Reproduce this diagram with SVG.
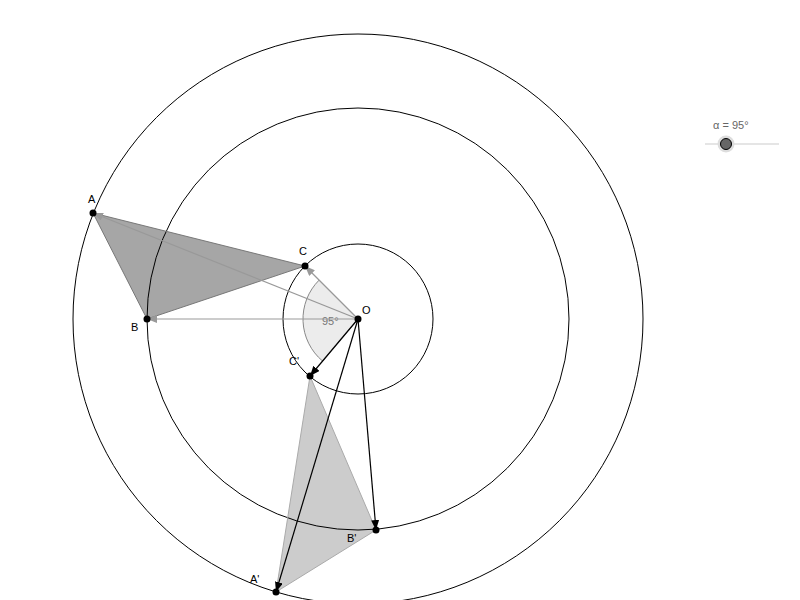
<svg xmlns="http://www.w3.org/2000/svg" width="800" height="600" viewBox="0 0 800 600">
<style>
text{font-family:"Liberation Sans",Arial,sans-serif;font-size:11px;fill:#000}
.circ{fill:none;stroke:#000;stroke-width:1}
.gv{stroke:#999;stroke-width:1.2;fill:none;marker-end:url(#ag)}
.bv{stroke:#000;stroke-width:1.2;fill:none;marker-end:url(#ab)}
.pt{fill:#000}
</style>
<defs>
<marker id="ag" viewBox="0 0 10 8" refX="10" refY="4" markerWidth="10" markerHeight="8" markerUnits="userSpaceOnUse" orient="auto"><path d="M0,0 L10,4 L0,8 z" fill="#999"/></marker>
<marker id="ab" viewBox="0 0 10 8" refX="10" refY="4" markerWidth="10" markerHeight="8" markerUnits="userSpaceOnUse" orient="auto"><path d="M0,0 L10,4 L0,8 z" fill="#000"/></marker>
</defs>
<rect width="800" height="600" fill="#fff"/>
<g id="circles">
<circle class="circ" cx="358" cy="319" r="285"/>
<circle class="circ" cx="358" cy="319" r="211"/>
<circle class="circ" cx="358" cy="319" r="75"/>
</g>
<g id="angle">
<path d="M358,319 L319.1,280.1 A55,55 0 0 0 322.6,361.1 Z" fill="#ececec" stroke="#888" stroke-width="1"/>
<text x="322" y="325" style="fill:#777">95°</text>
</g>
<g id="triangleABC">
<polygon points="93,213 147,319 305,266" fill="#000" fill-opacity="0.35" stroke="#777" stroke-width="1"/>
</g>
<g id="triangleA1B1C1">
<polygon points="276,592 376,530 310,376" fill="#000" fill-opacity="0.2" stroke="#aaa" stroke-width="1"/>
</g>
<g id="connectors">
<line class="gv" x1="358" y1="319" x2="93" y2="213"/>
<line class="gv" x1="358" y1="319" x2="147" y2="319"/>
<line class="gv" x1="358" y1="319" x2="305" y2="266"/>
<line class="bv" x1="358" y1="319" x2="276" y2="592"/>
<line class="bv" x1="358" y1="319" x2="376" y2="530"/>
<line class="bv" x1="358" y1="319" x2="310" y2="376"/>
</g>
<g id="A"><circle class="pt" cx="93" cy="213" r="3.5"/><text x="88" y="203">A</text></g>
<g id="B"><circle class="pt" cx="147" cy="319" r="3.5"/><text x="131" y="331">B</text></g>
<g id="C"><circle class="pt" cx="305" cy="266" r="3.5"/><text x="299" y="255">C</text></g>
<g id="O"><circle class="pt" cx="358" cy="319" r="3.5"/><text x="362" y="314">O</text></g>
<g id="A1"><circle class="pt" cx="276" cy="592" r="3.5"/><text x="250" y="583">A'</text></g>
<g id="B1"><circle class="pt" cx="376" cy="530" r="3.5"/><text x="347" y="542">B'</text></g>
<g id="C1"><circle class="pt" cx="310" cy="376" r="3.5"/><text x="289" y="365">C'</text></g>
<g id="slider">
<line x1="705" y1="144" x2="779" y2="144" stroke="#ccc" stroke-width="1.2"/>
<circle cx="726" cy="144" r="8.5" fill="#ddd"/>
<circle cx="726" cy="144" r="5.5" fill="#666" stroke="#000" stroke-width="1"/>
<text x="713" y="129" style="fill:#666">α = 95°</text>
</g>
</svg>
